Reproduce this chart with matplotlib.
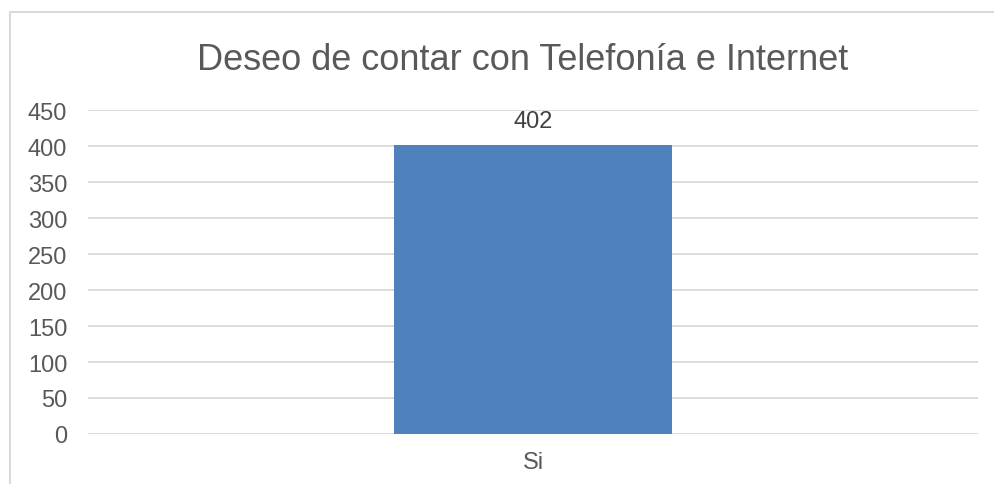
import matplotlib.pyplot as plt
from matplotlib.patches import Rectangle

categories = ["Si"]
values = [402]
yticks = [0, 50, 100, 150, 200, 250, 300, 350, 400, 450]
title = "Deseo de contar con Telefonía e Internet"

plt.rcParams["font.family"] = ["Liberation Sans", "DejaVu Sans"]
txt = "#595959"
grid = "#d9d9d9"

fig = plt.figure(figsize=(9.94, 4.85), dpi=100)
ax = fig.add_axes([88 / 994, 50 / 485, 890 / 994, 324 / 485])

# chart border
fig.patches.append(Rectangle((10 / 994, -0.1), 1.2, (485 - 13) / 485 + 0.1,
                             transform=fig.transFigure, fill=False,
                             edgecolor=grid, linewidth=1.5))

x = range(len(categories))
bars = ax.bar(x, values, width=0.312, color="#4f81bd", zorder=3)
for b, v in zip(bars, values):
    ax.annotate(str(v), (b.get_x() + b.get_width() / 2, v),
                xytext=(0, 12.5), textcoords="offset points", ha="center",
                va="baseline", fontsize=17, color="#404040")

ax.set_xlim(-0.5, 0.5)
ax.set_ylim(0, 450)
ax.set_yticks(yticks)
ax.set_xticks(list(x))
ax.set_xticklabels(categories)
ax.grid(axis="y", color=grid, linewidth=1.3, zorder=0)
for s in ax.spines.values():
    s.set_visible(False)
ax.tick_params(length=0, labelsize=17, colors=txt)
ax.tick_params(axis="y", pad=15)
ax.tick_params(axis="x", pad=12.5)

fig.text(522.5 / 994, (485 - 70) / 485, title, ha="center",
         va="baseline", fontsize=26, color=txt)

fig.savefig("out.png", dpi=100)
